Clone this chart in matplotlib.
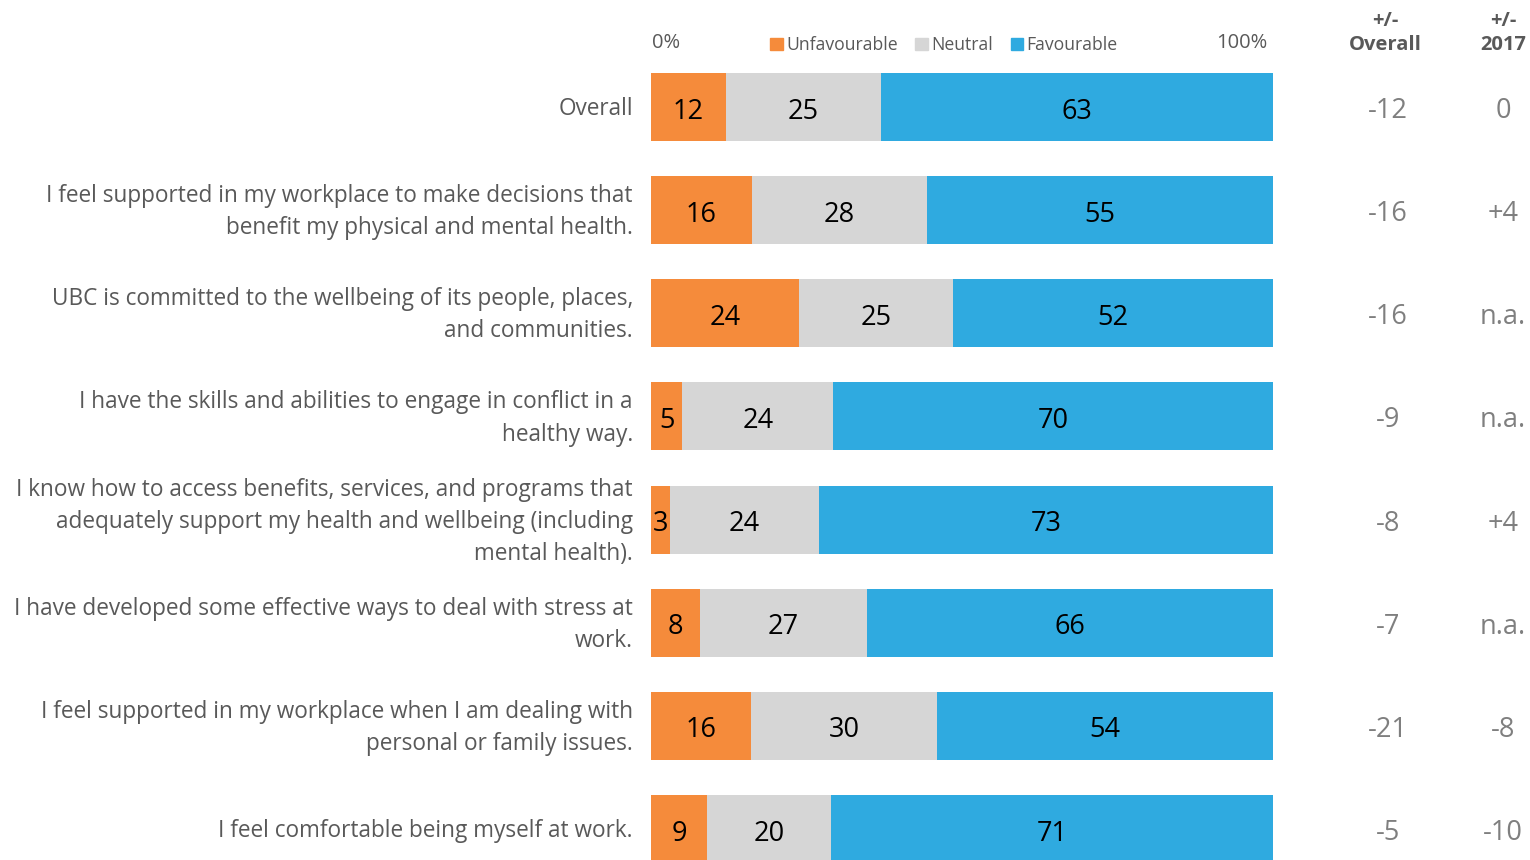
import numpy as np
import matplotlib.pyplot as plt
from matplotlib.patches import Patch

plt.rcParams['font.family'] = ['Open Sans', 'DejaVu Sans']

labels = [
    "Overall",
    "I feel supported in my workplace to make decisions that\nbenefit my physical and mental health.",
    "UBC is committed to the wellbeing of its people, places,\nand communities.",
    "I have the skills and abilities to engage in conflict in a\nhealthy way.",
    "I know how to access benefits, services, and programs that\nadequately support my health and wellbeing (including\nmental health).",
    "I have developed some effective ways to deal with stress at\nwork.",
    "I feel supported in my workplace when I am dealing with\npersonal or family issues.",
    "I feel comfortable being myself at work.",
]
unfav = [12, 16, 24, 5, 3, 8, 16, 9]
neutral = [25, 28, 25, 24, 24, 27, 30, 20]
fav = [63, 55, 52, 70, 73, 66, 54, 71]
diff_overall = ["-12", "-16", "-16", "-9", "-8", "-7", "-21", "-5"]
diff_2017 = ["0", "+4", "n.a.", "n.a.", "+4", "n.a.", "-8", "-10"]

c_unfav = "#F58B3B"
c_neu = "#D6D6D6"
c_fav = "#2FAAE0"
txt = "#595959"

fig = plt.figure(figsize=(15.3, 8.6), dpi=100)
ax = fig.add_axes([651 / 1530, 0, (1273 - 651) / 1530, (860 - 55.4) / 860])

y = np.arange(len(labels))
u = np.array(unfav, float)
n = np.array(neutral, float)
f = np.array(fav, float)
tot = u + n + f
# bars fill the full width
u_w, n_w, f_w = u / tot * 100, n / tot * 100, f / tot * 100

h = 0.66
ax.barh(y, u_w, height=h, color=c_unfav)
ax.barh(y, n_w, left=u_w, height=h, color=c_neu)
ax.barh(y, f_w, left=u_w + n_w, height=h, color=c_fav)

dy = 0.045  # nudge text down a little
for i in range(len(labels)):
    ax.text(u_w[i] / 2, i + dy, str(unfav[i]), ha='center', va='center', fontsize=19.5, color='black')
    ax.text(u_w[i] + n_w[i] / 2, i + dy, str(neutral[i]), ha='center', va='center', fontsize=19.5, color='black')
    ax.text(u_w[i] + n_w[i] + f_w[i] / 2, i + dy, str(fav[i]), ha='center', va='center', fontsize=19.5, color='black')
    ax.text(-2.9, i + 0.02, labels[i], ha='right', va='center', fontsize=16.3, color=txt,
            linespacing=1.45, multialignment='right')

ax.set_xlim(0, 100)
ax.set_ylim(7.3006, -0.5)
ax.axis('off')

# right-hand columns
for i in range(len(labels)):
    yf = 1 - (111 + i * 103.14) / 860
    fig.text(1388 / 1530, yf, diff_overall[i], ha='center', va='center', fontsize=19.5, color="#7F7F7F")
    fig.text(1503 / 1530, yf, diff_2017[i], ha='center', va='center', fontsize=19.5, color="#7F7F7F")

fig.text(1385 / 1530, 1 - 33 / 860, "+/-\nOverall", ha='center', va='center', fontsize=14.5,
         fontweight='bold', color=txt, linespacing=1.2)
fig.text(1503 / 1530, 1 - 33 / 860, "+/-\n2017", ha='center', va='center', fontsize=14.5,
         fontweight='bold', color=txt, linespacing=1.2)

fig.text(652 / 1530, 1 - 43 / 860, "0%", ha='left', va='center', fontsize=14.5, color=txt)
fig.text(1267 / 1530, 1 - 43 / 860, "100%", ha='right', va='center', fontsize=14.5, color=txt)

handles = [Patch(color=c_unfav, label="Unfavourable"),
           Patch(color=c_neu, label="Neutral"),
           Patch(color=c_fav, label="Favourable")]
fig.legend(handles=handles, loc='center', bbox_to_anchor=(944 / 1530, 1 - 45 / 860), ncol=3,
           frameon=False, fontsize=12.7, handlelength=0.7, handleheight=0.7, handletextpad=0.2,
           columnspacing=1.0, labelcolor=txt)

fig.savefig("out.png", dpi=100)
